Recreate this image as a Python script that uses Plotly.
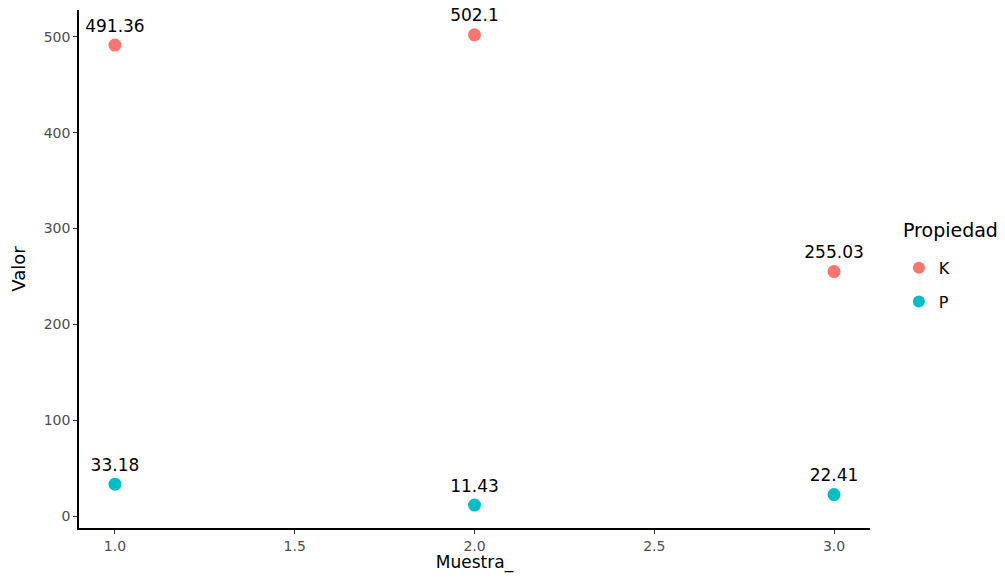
import plotly.graph_objects as go

muestra = [1.0, 2.0, 3.0]
k_vals = [491.36, 502.1, 255.03]
p_vals = [33.18, 11.43, 22.41]
series_names = ["K", "P"]
colors = ["#F8766D", "#00BFC4"]
x_ticks = [1.0, 1.5, 2.0, 2.5, 3.0]
y_ticks = [0, 100, 200, 300, 400, 500]
legend_title = "Propiedad"

FONT = "DejaVu Sans"

fig = go.Figure()
for name, vals, col in zip(series_names, [k_vals, p_vals], colors):
    fig.add_trace(go.Scatter(
        x=muestra, y=vals, mode="markers+text", name=name, legendgroup=name,
        marker=dict(color=col, size=13), cliponaxis=False,
        text=[f"{v:g}" for v in vals], textposition="top center",
        textfont=dict(family=FONT, size=17, color="#000000"),
    ))

fig.add_annotation(
    text=legend_title, xref="paper", yref="paper", x=1.039, y=0.575,
    xanchor="left", yanchor="middle", showarrow=False,
    font=dict(size=19, family=FONT, color="#000000"),
)

fig.update_layout(
    width=997, height=565,
    margin=dict(l=71, r=135, t=2, b=45, autoexpand=False),
    plot_bgcolor="white", paper_bgcolor="white",
    font=dict(family=FONT, color="#000000"),
    legend=dict(
        font=dict(size=16, family=FONT),
        x=1.0365, xanchor="left", y=0.535, yanchor="top",
        itemsizing="constant", tracegroupgap=10,
    ),
)
fig.update_xaxes(
    range=[0.9, 3.1], tickvals=x_ticks, ticktext=[f"{t:.1f}" for t in x_ticks],
    showgrid=False, zeroline=False, showline=True, linecolor="#000000", linewidth=1.5,
    ticks="outside", ticklen=4, tickcolor="#333333", automargin=False,
    tickfont=dict(size=14, color="#4D4D4D", family=FONT),
    title=dict(text="Muestra_", font=dict(size=17, family=FONT), standoff=20),
)
fig.update_yaxes(
    range=[-12.5, 528], tickvals=y_ticks,
    showgrid=False, zeroline=False, showline=True, linecolor="#000000", linewidth=1.5,
    ticks="outside", ticklen=4, tickcolor="#333333", automargin=False,
    tickfont=dict(size=14, color="#4D4D4D", family=FONT),
    title=dict(text="Valor", font=dict(size=18, family=FONT), standoff=18),
)

fig.write_html("out.html")
